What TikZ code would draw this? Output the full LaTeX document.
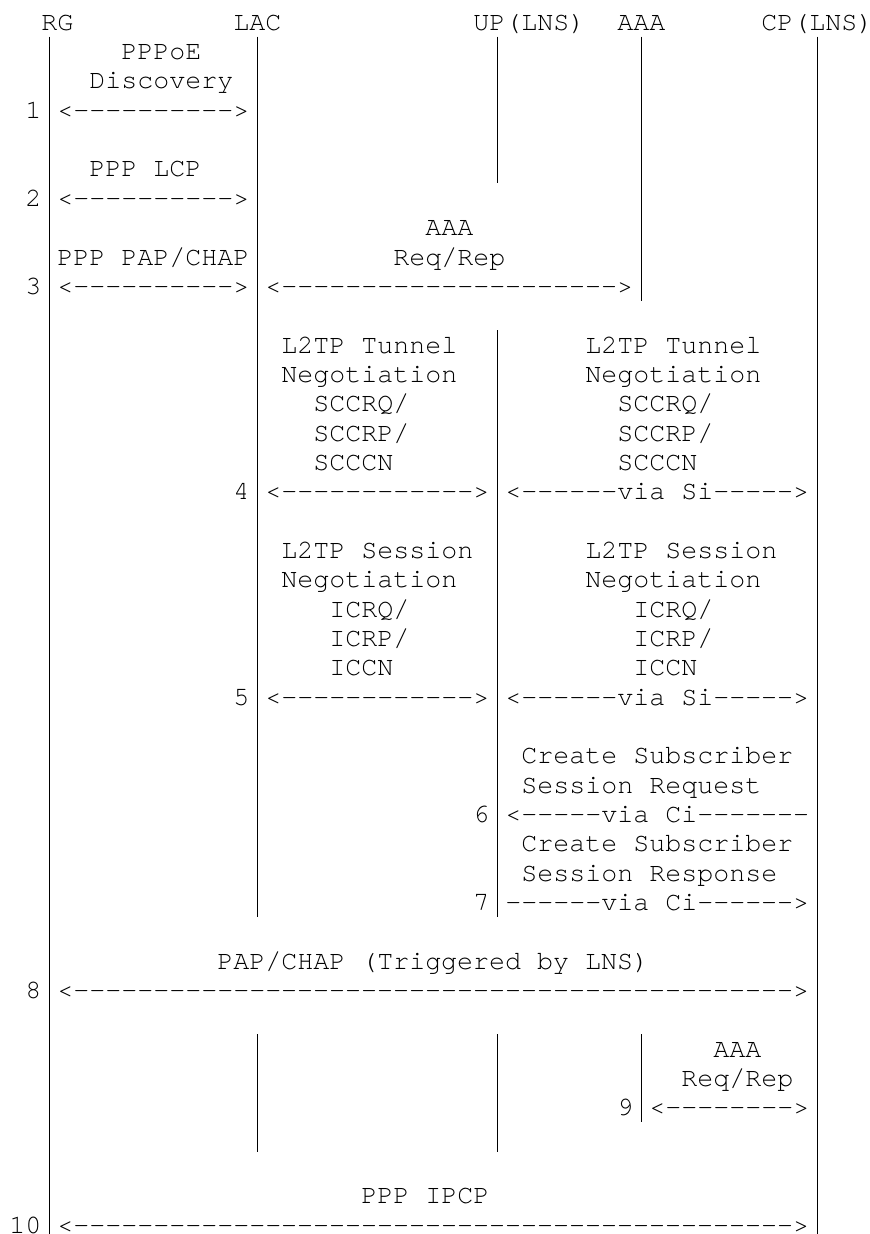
\documentclass[tikz,border=0pt]{standalone}
\usepackage{fontspec}
\setmonofont{texgyrecursor-regular.otf}
\newcommand\dsh[1]{\foreach\k in {1,...,#1}{-}}
\begin{document}
\begin{tikzpicture}[x=0.5pt,y=-0.5pt,
  txt/.style={anchor=base west,inner sep=0pt,outer sep=0pt,font=\ttfamily\fontsize{13.33}{14}\selectfont},
  life/.style={line width=0.6pt,black}]
\useasboundingbox (0,0) rectangle (869,1234);
\newcommand\T[4]{\node[txt] (#1) at ({9.3+16*#2},{30.3+29.34*#3}) {#4};}
\newcommand\B[3]{\draw[life] ({17.3+16*#1},{7.33+29.34*#2}) -- ({17.3+16*#1},{36.67+29.34*#3});}
% lifelines
\B{2}{1}{41}
\B{15}{1}{30} \B{15}{35}{38}
\B{30}{1}{5} \B{30}{11}{30} \B{30}{35}{38}
\B{39}{1}{9} \B{39}{35}{37}
\B{50}{1}{41}
% header
\T{rg}{2}{0}{RG} \T{lac}{14}{0}{LAC} \T{up}{29}{0}{UP(LNS)} \T{aaa}{38}{0}{AAA} \T{cp}{47}{0}{CP(LNS)}
% step 1
\T{s1a}{7}{1}{PPPoE}
\T{s1b}{5}{2}{Discovery}
\T{n1}{1}{3}{1} \T{m1}{3}{3}{<\dsh{10}>}
% step 2
\T{s2}{5}{5}{PPP LCP}
\T{n2}{1}{6}{2} \T{m2}{3}{6}{<\dsh{10}>}
% step 3
\T{s3b}{26}{7}{AAA}
\T{s3a}{3}{8}{PPP PAP/CHAP} \T{s3c}{24}{8}{Req/Rep}
\T{n3}{1}{9}{3} \T{m3a}{3}{9}{<\dsh{10}>} \T{m3b}{16}{9}{<\dsh{21}>}
% step 4
\T{s4a}{17}{11}{L2TP Tunnel} \T{s4b}{36}{11}{L2TP Tunnel}
\T{s4c}{17}{12}{Negotiation} \T{s4d}{36}{12}{Negotiation}
\T{s4e}{19}{13}{SCCRQ/} \T{s4f}{38}{13}{SCCRQ/}
\T{s4g}{19}{14}{SCCRP/} \T{s4h}{38}{14}{SCCRP/}
\T{s4i}{19}{15}{SCCCN} \T{s4j}{38}{15}{SCCCN}
\T{n4}{14}{16}{4} \T{m4a}{16}{16}{<\dsh{12}>} \T{m4b}{31}{16}{<\dsh{6}via Si\dsh{5}>}
% step 5
\T{s5a}{17}{18}{L2TP Session} \T{s5b}{36}{18}{L2TP Session}
\T{s5c}{17}{19}{Negotiation} \T{s5d}{36}{19}{Negotiation}
\T{s5e}{20}{20}{ICRQ/} \T{s5f}{39}{20}{ICRQ/}
\T{s5g}{20}{21}{ICRP/} \T{s5h}{39}{21}{ICRP/}
\T{s5i}{20}{22}{ICCN} \T{s5j}{39}{22}{ICCN}
\T{n5}{14}{23}{5} \T{m5a}{16}{23}{<\dsh{12}>} \T{m5b}{31}{23}{<\dsh{6}via Si\dsh{5}>}
% step 6
\T{s6a}{32}{25}{Create Subscriber}
\T{s6b}{32}{26}{Session Request}
\T{n6}{29}{27}{6} \T{m6}{31}{27}{<\dsh{5}via Ci\dsh{7}}
% step 7
\T{s7a}{32}{28}{Create Subscriber}
\T{s7b}{32}{29}{Session Response}
\T{n7}{29}{30}{7} \T{m7}{31}{30}{\dsh{6}via Ci\dsh{6}>}
% step 8
\T{s8}{13}{32}{PAP/CHAP (Triggered by LNS)}
\T{n8}{1}{33}{8} \T{m8}{3}{33}{<\dsh{45}>}
% step 9
\T{s9a}{44}{35}{AAA}
\T{s9b}{42}{36}{Req/Rep}
\T{n9}{38}{37}{9} \T{m9}{40}{37}{<\dsh{8}>}
% step 10
\T{s10}{22}{40}{PPP IPCP}
\T{n10}{0}{41}{10} \T{m10}{3}{41}{<\dsh{45}>}
\end{tikzpicture}
\end{document}
